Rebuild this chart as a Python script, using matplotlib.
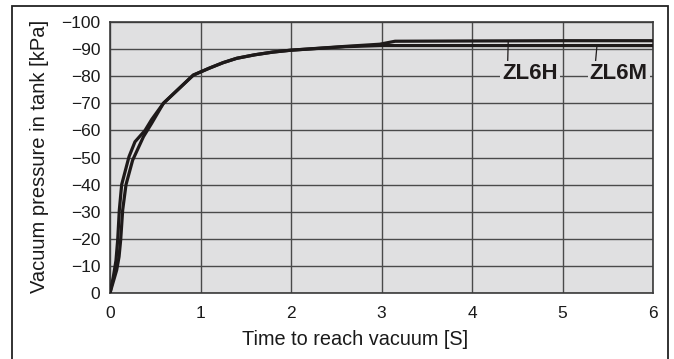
import numpy as np
import matplotlib.pyplot as plt
from matplotlib.patches import Rectangle

# ZL6H: upper curve at the end (slightly faster start)
t_h = [0, 0.037, 0.066, 0.085, 0.103, 0.129, 0.21, 0.276, 0.387, 0.46, 0.59,
       0.92, 1.1, 1.25, 1.4, 1.6, 1.8, 2.0, 2.6, 2.98, 3.15, 4.0, 5.0, 6.0]
p_h = [0, -6, -12, -19.6, -30.6, -40, -50.3, -55.8, -60, -64, -70,
       -80.4, -83.0, -85.0, -86.6, -87.9, -88.9, -89.6, -91.0, -91.8, -92.9,
       -93.0, -93.1, -93.1]

# ZL6M: lower curve at the end
t_m = [0, 0.074, 0.1, 0.118, 0.14, 0.177, 0.25, 0.37, 0.46, 0.59,
       0.92, 1.1, 1.25, 1.4, 1.6, 1.8, 2.0, 2.6, 3.0, 4.0, 5.0, 6.0]
p_m = [0, -8.5, -13.4, -19.6, -30.6, -40, -49, -57.7, -62.6, -70,
       -80.4, -83.0, -85.0, -86.6, -87.9, -88.9, -89.6, -90.9, -91.3,
       -91.3, -91.3, -91.3]

x_ticks = [0, 1, 2, 3, 4, 5, 6]
y_ticks = [0, -10, -20, -30, -40, -50, -60, -70, -80, -90, -100]


def main():
    plt.rcParams['font.family'] = ['Liberation Sans', 'DejaVu Sans']
    fig = plt.figure(figsize=(6.74, 3.59), dpi=100)
    ax = fig.add_axes([110 / 674, 1 - 293 / 359, 543 / 674, 271 / 359])

    bg = '#e0e0e1'
    ink = '#1e1a1a'
    ax.set_facecolor(bg)
    ax.plot(t_h, p_h, color=ink, lw=2.3, solid_joinstyle='round', zorder=3)
    ax.plot(t_m, p_m, color=ink, lw=2.3, solid_joinstyle='round', zorder=3)

    ax.set_xlim(0, 6)
    ax.set_ylim(0, -100)
    ax.set_xticks(x_ticks)
    ax.set_yticks(y_ticks)
    ax.grid(True, color='#4a4a4a', lw=1.0)
    ax.set_axisbelow(True)
    ax.tick_params(length=0, labelsize=12.5, colors='#1a1a1a')
    ax.tick_params(axis='x', pad=9)
    ax.tick_params(axis='y', pad=7)
    for s in ax.spines.values():
        s.set_color('#3a3a3a')
        s.set_linewidth(1.2)

    ax.set_xlabel('Time to reach vacuum [S]', fontsize=14.3, color='#1a1a1a')
    ax.xaxis.set_label_coords(0.451, -0.137)
    ax.set_ylabel('Vacuum pressure in tank [kPa]', fontsize=14.5, color='#1a1a1a')
    ax.yaxis.set_label_coords(-0.112, 0.505)

    box = dict(facecolor=bg, edgecolor='none', pad=1.5)
    ax.annotate('ZL6H', xy=(4.40, -92.7), xytext=(4.64, -81.0),
                ha='center', va='center', fontsize=16, fontweight='bold',
                color=ink, bbox=box, zorder=4,
                arrowprops=dict(arrowstyle='-', color=ink, lw=0.9,
                                shrinkA=0, shrinkB=0,
                                relpos=(0.1, 1.0)))
    ax.annotate('ZL6M', xy=(5.38, -91.0), xytext=(5.62, -81.0),
                ha='center', va='center', fontsize=16, fontweight='bold',
                color=ink, bbox=box, zorder=4,
                arrowprops=dict(arrowstyle='-', color=ink, lw=0.9,
                                shrinkA=0, shrinkB=0,
                                relpos=(0.1, 1.0)))

    # outer frame
    fig.patches.append(Rectangle((12 / 674, -0.02), 656 / 674, 1 - 6 / 359 + 0.02,
                                 transform=fig.transFigure, fill=False,
                                 edgecolor='#222222', lw=1.3))

    fig.savefig('out.png', dpi=100)


if __name__ == '__main__':
    main()
